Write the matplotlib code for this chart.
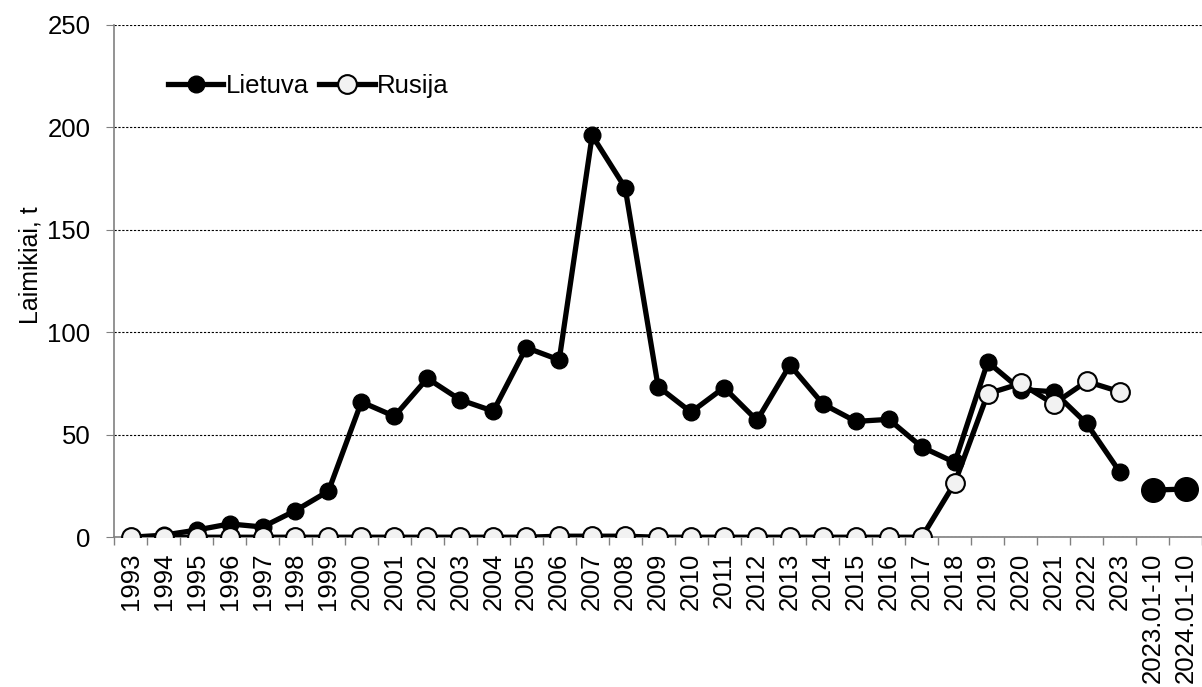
import matplotlib.pyplot as plt
import numpy as np

plt.rcParams['font.family'] = ['Liberation Sans', 'DejaVu Sans']

# categories on the x axis
years = [str(y) for y in range(1993, 2024)] + ['2023.01-10', '2024.01-10']

# Lietuva catches, t (1993-2023)
lietuva = [0, 1, 3.5, 6.5, 5, 13, 22.5, 66, 59, 77.5, 67, 61.5, 92.5, 86.5,
           196, 170.5, 73.5, 61, 73, 57, 84, 65, 56.5, 57.5, 44, 36.5,
           85.5, 72, 71, 55.5, 32]
# Lietuva, January-October
lietuva_part = [23, 23.5]
# Rusija catches, t (1993-2023)
rusija = [0, 0, 0, 0, 0, 0, 0, 0, 0, 0, 0, 0, 0, 0.5, 0.5, 0.5, 0, 0, 0,
          0, 0, 0, 0, 0, 0, 26.5, 70, 75, 65, 76, 71]

x = np.arange(len(years))
n_full = len(lietuva)

fig = plt.figure(figsize=(12.02, 6.87), dpi=100)
ax = fig.add_axes([0.095, 0.218, 0.905, 0.746])

ax.plot(x[:n_full], lietuva, color='black', lw=3.8, marker='o', ms=12,
        mfc='black', mec='black', label='Lietuva', zorder=3)
ax.plot(x[:n_full], rusija, color='black', lw=3.8, marker='o', ms=13.5,
        mfc='#f2f2f2', mec='black', mew=1.5, label='Rusija', zorder=4)
ax.plot(x[n_full:], lietuva_part, color='black', lw=3.8, marker='o', ms=17,
        mfc='black', mec='black', zorder=3)

ax.set_xlim(-0.5, len(years) - 0.5)
ax.set_ylim(0, 250)
ax.set_yticks([0, 50, 100, 150, 200, 250])
ax.set_xticks(x)
ax.set_xticklabels(years, rotation=90, fontsize=18.5)
ax.set_xticks(np.arange(-0.5, len(years), 1), minor=True)
ax.tick_params(axis='x', which='major', length=0, pad=11)
ax.tick_params(axis='x', which='minor', length=6, color='#808080', width=1)
ax.tick_params(axis='y', length=6, color='#808080', labelsize=18.5, pad=11)

ax.grid(axis='y', linestyle=(0, (2, 1.5)), color='black', lw=0.8)
ax.set_axisbelow(True)
for s in ['top', 'right']:
    ax.spines[s].set_visible(False)
ax.spines['left'].set_color('#808080')
ax.spines['bottom'].set_color('#808080')
ax.spines['left'].set_linewidth(1.2)
ax.spines['bottom'].set_linewidth(1.2)

ax.set_ylabel('Laimikiai, t', fontsize=18)
ax.yaxis.set_label_coords(-0.066, 0.531)

ax.legend(loc='center left', bbox_to_anchor=(0.0496, 0.88), ncol=2,
          frameon=False, fontsize=18.5, handlelength=2.15, handletextpad=0.08,
          columnspacing=0.42, borderpad=0, borderaxespad=0)

fig.savefig('out.png', dpi=100)
